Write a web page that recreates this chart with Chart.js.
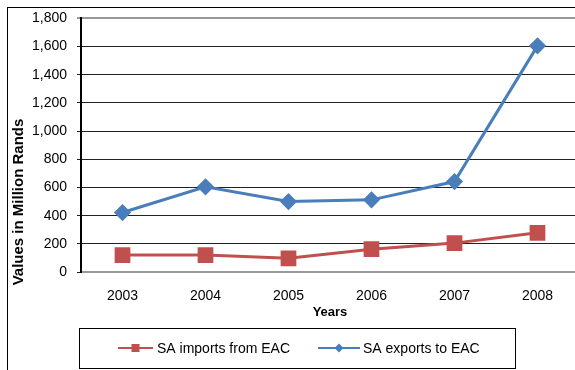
<!DOCTYPE html>
<html>
<head>
<meta charset="utf-8">
<script src="https://cdn.jsdelivr.net/npm/chart.js@4/dist/chart.umd.min.js"></script>
<style>
  html, body { margin: 0; padding: 0; background: #fff; overflow: hidden; }
  #wrap { width: 575px; height: 370px; overflow: hidden; position: relative; }
  canvas { position: absolute; left: 0; top: 0; }
</style>
</head>
<body>
<div id="wrap"><canvas id="tradeChart" width="600" height="370"></canvas></div>
<script>
// Dados
const years = ['2003', '2004', '2005', '2006', '2007', '2008'];
const importsFromEAC = [120, 120, 97, 162, 205, 278];
const exportsToEAC = [422, 605, 500, 512, 642, 1605];
const yTicks = [0, 200, 400, 600, 800, 1000, 1200, 1400, 1600, 1800];
const yTitle = 'Values in Million Rands';

const RED = '#C0504D';
const BLUE = '#4A7EBB';
const FONT = 'Liberation Sans, Arial, sans-serif';

// Moldura externa, título do eixo Y e caixa da legenda
const framePlugin = {
    id: 'frame',
    afterDraw(chart) {
        const ctx = chart.ctx;
        ctx.save();
        ctx.strokeStyle = '#000';
        ctx.lineWidth = 1;
        ctx.strokeRect(7.5, 7.5, 620, 400);

        // título do eixo Y
        ctx.save();
        ctx.translate(19, 202);
        ctx.rotate(-Math.PI / 2);
        ctx.fillStyle = '#000';
        ctx.font = 'bold 15px ' + FONT;
        ctx.textAlign = 'center';
        ctx.textBaseline = 'middle';
        ctx.fillText(yTitle, 0, 0, 190);
        ctx.restore();

        // legenda
        ctx.strokeRect(79.5, 328.5, 436, 40);
        const items = [
            { label: chart.data.datasets[0].label, color: RED, x1: 118, x2: 153, style: 'rect', tx: 157 },
            { label: chart.data.datasets[1].label, color: BLUE, x1: 318, x2: 360, style: 'rectRot', tx: 363 }
        ];
        const ly = 348;
        items.forEach(it => {
            ctx.strokeStyle = it.color;
            ctx.lineWidth = 2;
            ctx.beginPath();
            ctx.moveTo(it.x1, ly);
            ctx.lineTo(it.x2, ly);
            ctx.stroke();
            ctx.fillStyle = it.color;
            const cx = (it.x1 + it.x2) / 2;
            if (it.style === 'rect') {
                ctx.fillRect(cx - 4, ly - 4, 8, 8);
            } else {
                ctx.beginPath();
                ctx.moveTo(cx, ly - 4.5);
                ctx.lineTo(cx + 4.5, ly);
                ctx.lineTo(cx, ly + 4.5);
                ctx.lineTo(cx - 4.5, ly);
                ctx.closePath();
                ctx.fill();
            }
            ctx.fillStyle = '#000';
            ctx.font = '14px ' + FONT;
            ctx.textBaseline = 'middle';
            ctx.textAlign = 'left';
            ctx.fillText(it.label, it.tx, ly + 1);
        });
        ctx.restore();
    }
};

const chart = new Chart(document.getElementById('tradeChart'), {
    type: 'line',
    data: {
        labels: years,
        datasets: [
            {
                label: 'SA imports from EAC',
                data: importsFromEAC,
                borderColor: RED,
                backgroundColor: RED,
                borderWidth: 3,
                pointStyle: 'rect',
                pointRadius: 9,
                pointHoverRadius: 9,
                tension: 0
            },
            {
                label: 'SA exports to EAC',
                data: exportsToEAC,
                borderColor: BLUE,
                backgroundColor: BLUE,
                borderWidth: 3,
                pointStyle: 'rectRot',
                pointRadius: 6.5,
                pointHoverRadius: 6.5,
                tension: 0
            }
        ]
    },
    options: {
        responsive: false,
        animation: false,
        devicePixelRatio: 1,
        layout: { padding: { left: 0, top: 18, right: 21, bottom: 38 } },
        plugins: {
            legend: { display: false },
            tooltip: { enabled: false }
        },
        scales: {
            x: {
                offset: true,
                grid: { display: false, drawTicks: false },
                border: { color: '#999', width: 2 },
                ticks: {
                    color: '#000',
                    font: { family: FONT, size: 14 },
                    padding: 16
                },
                title: {
                    display: true,
                    text: 'Years',
                    color: '#000',
                    font: { family: FONT, size: 13, weight: 'bold' },
                    padding: { top: 2, bottom: 12 }
                },
                afterFit(scale) { scale.height = 60; }
            },
            y: {
                min: 0,
                max: 1800,
                afterBuildTicks(scale) {
                    scale.ticks = yTicks.map(v => ({ value: v }));
                },
                grid: {
                    color: ctx => (ctx.tick && ctx.tick.value === 1800) ? '#999' : '#222',
                    lineWidth: ctx => (ctx.tick && ctx.tick.value === 1800) ? 2 : 1,
                    tickLength: 4
                },
                border: { color: '#000', width: 2 },
                ticks: {
                    color: '#000',
                    font: { family: FONT, size: 14 },
                    padding: 10,
                    callback: v => v.toLocaleString('en-US')
                },
                title: { display: false },
                afterFit(scale) { scale.width = 81; }
            }
        }
    },
    plugins: [framePlugin]
});
</script>
</body>
</html>
